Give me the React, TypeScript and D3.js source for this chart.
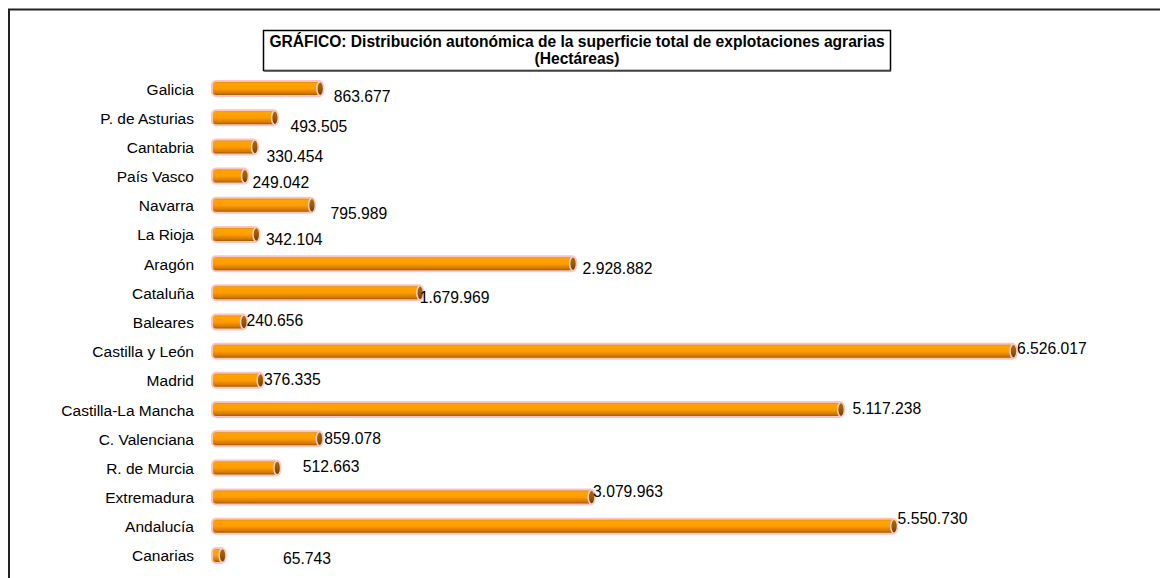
import * as d3 from 'd3'
import * as React from 'react'

//------------------------------data------------------------------
const regions = [
  'Galicia',
  'P. de Asturias',
  'Cantabria',
  'País Vasco',
  'Navarra',
  'La Rioja',
  'Aragón',
  'Cataluña',
  'Baleares',
  'Castilla y León',
  'Madrid',
  'Castilla-La Mancha',
  'C. Valenciana',
  'R. de Murcia',
  'Extremadura',
  'Andalucía',
  'Canarias'
]
const hectares = [
  863677, 493505, 330454, 249042, 795989, 342104, 2928882, 1679969, 240656,
  6526017, 376335, 5117238, 859078, 512663, 3079963, 5550730, 65743
]
// label nudges (px) relative to the bar end, as placed in the original
const labelNudge: [number, number][] = [
  [11, 7], [13, 8], [9, 9], [5, 6], [16, 8], [7, 5], [7, 4], [-3, 4], [0, -2],
  [1, -3], [1, -1], [9, -2], [2, -1], [23, -2], [-1, -6], [1, -8], [58, 3]
]
const titleLines = [
  'GRÁFICO: Distribución autonómica de la superficie total de explotaciones agrarias',
  '(Hectáreas)'
]

const WIDTH = 1160
const HEIGHT = 578
const BAR_X0 = 212
const BAR_H = 15
const FONT = 'Liberation Sans, Arial, sans-serif'

// es-ES style thousands with dots
const fmt = d3.formatLocale({ decimal: ',', thousands: '.', grouping: [3], currency: ['', '€'] }).format(',d')

//------------------------------Component------------------------------
const App: React.FunctionComponent = () => {
  const x = d3.scaleLinear().domain([0, d3.max(hectares) as number]).range([BAR_X0 + 5, 1016])
  const y = d3.scaleBand<string>().domain(regions).range([74, 570])
  const step = y.step()

  return (
    <svg
      width={WIDTH}
      height={HEIGHT}
      style={{ position: 'absolute', left: 0, top: 0, background: '#fff' }}
      fontFamily={FONT}
    >
      <defs>
        <linearGradient id="tube" x1="0" y1="0" x2="0" y2="1">
          <stop offset="0%" stopColor="#c97800" />
          <stop offset="15%" stopColor="#ffa400" />
          <stop offset="50%" stopColor="#ff9d00" />
          <stop offset="80%" stopColor="#d27a00" />
          <stop offset="100%" stopColor="#8c4c00" />
        </linearGradient>
        <linearGradient id="cap" x1="0" y1="0" x2="0" y2="1">
          <stop offset="0%" stopColor="#b06a00" />
          <stop offset="50%" stopColor="#9a5a05" />
          <stop offset="100%" stopColor="#6e3c00" />
        </linearGradient>
      </defs>

      {/* outer frame (cropped) */}
      <path d={`M9,${HEIGHT + 2} V9.5 H${WIDTH + 2}`} fill="none" stroke="#222" strokeWidth={2} />

      {/* title */}
      <rect x={263.5} y={30.5} width={627} height={40} fill="#fff" stroke="#000" strokeWidth={1.5} />
      <line x1={264} y1={71} x2={891} y2={71} stroke="#555" strokeWidth={1.5} />
      {titleLines.map((t, i) => (
        <text
          key={t}
          x={577}
          y={47 + i * 17}
          textAnchor="middle"
          fontSize={15.6}
          fontWeight="bold"
          fill="#000"
        >
          {t}
        </text>
      ))}

      {regions.map((r, i) => {
        const cy = (y(r) as number) + step / 2
        const end = x(hectares[i])
        const [dx, dy] = labelNudge[i]
        return (
          <g key={r}>
            <text x={194} y={cy + 6} textAnchor="end" fontSize={15.5} fill="#000">
              {r}
            </text>
            <rect
              x={BAR_X0}
              y={cy - BAR_H / 2}
              width={end - BAR_X0}
              height={BAR_H}
              rx={4}
              fill="url(#tube)"
              stroke="#f9c4c2"
              strokeWidth={2}
            />
            <ellipse
              cx={end - 2.5}
              cy={cy}
              rx={3.4}
              ry={BAR_H / 2 - 0.5}
              fill="url(#cap)"
              stroke="#f9cac6"
              strokeWidth={1.6}
            />
            <text x={end + dx} y={cy + dy + 6} fontSize={15.7} fill="#000">
              {fmt(hectares[i])}
            </text>
          </g>
        )
      })}
    </svg>
  )
}

export default App
